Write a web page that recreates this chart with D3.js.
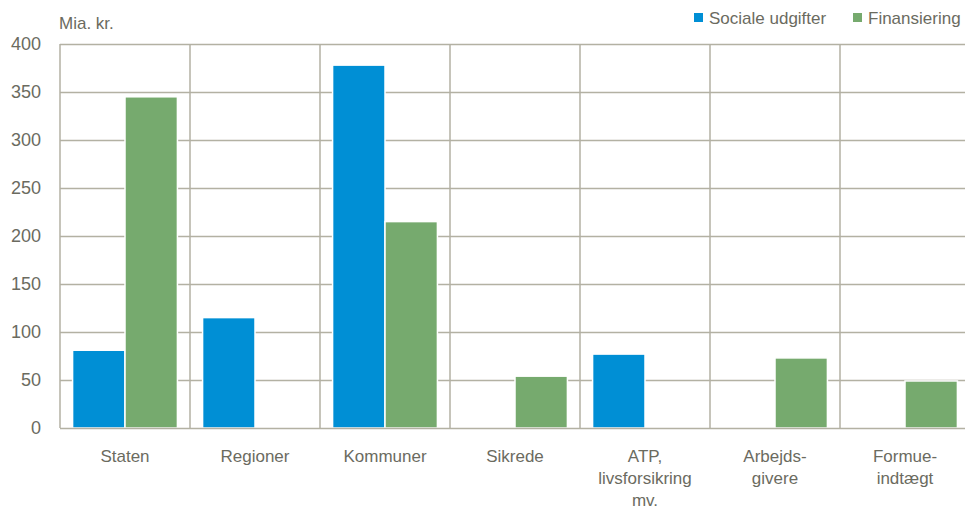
<!DOCTYPE html>
<html>
<head>
<meta charset="utf-8">
<script src="https://cdn.jsdelivr.net/npm/d3@7"></script>
<style>
  body { margin: 0; background: #fff; }
  svg { font-family: "Liberation Sans", Arial, sans-serif; }
</style>
</head>
<body>
<div id="wrapper"></div>
<script>
const categories = [
  ["Staten"],
  ["Regioner"],
  ["Kommuner"],
  ["Sikrede"],
  ["ATP,", "livsforsikring", "mv."],
  ["Arbejds-", "givere"],
  ["Formue-", "indtægt"],
];
const seriesNames = ["Sociale udgifter", "Finansiering"];
const socialeUdgifter = [81, 115, 378, 0, 77, 0, 0];
const finansiering = [345, 0, 215, 54, 0, 73, 49];
const yTicks = [0, 50, 100, 150, 200, 250, 300, 350, 400];
const colors = ["#008fd5", "#76aa6e"];

const drawChart = () => {
  const dimensions = {
    width: 965,
    height: 513,
    margins: { top: 44, right: -5, bottom: 85, left: 60 },
  };
  dimensions.boundedWidth =
    dimensions.width - dimensions.margins.left - dimensions.margins.right;
  dimensions.boundedHeight =
    dimensions.height - dimensions.margins.top - dimensions.margins.bottom;

  const textColor = "#6b6b5f";
  const gridColor = "#b3b1a3";

  const svg = d3.select("#wrapper").append("svg")
    .attr("width", dimensions.width)
    .attr("height", dimensions.height);

  const bounds = svg.append("g")
    .attr("transform", `translate(${dimensions.margins.left},${dimensions.margins.top})`);

  const keys = categories.map((c, i) => i);
  const xScale = d3.scaleBand()
    .domain(keys)
    .range([0, dimensions.boundedWidth]);
  // two bars per category, white gap on each side
  const inner = d3.scaleBand()
    .domain([0, 1])
    .range([0, xScale.bandwidth()])
    .paddingOuter(0.24)
    .paddingInner(0);
  const yScale = d3.scaleLinear()
    .domain([0, 400])
    .range([dimensions.boundedHeight, 0]);

  // horizontal grid
  bounds.append("g")
    .selectAll("line")
    .data(yTicks.filter(d => d > 0))
    .join("line")
      .attr("x1", 0)
      .attr("x2", dimensions.boundedWidth)
      .attr("y1", d => yScale(d) + 0.5)
      .attr("y2", d => yScale(d) + 0.5)
      .attr("stroke", gridColor)
      .attr("stroke-width", 1.5);

  // vertical separators
  bounds.append("g")
    .selectAll("line")
    .data(d3.range(categories.length + 1))
    .join("line")
      .attr("x1", d => d === categories.length ? dimensions.boundedWidth : xScale(d))
      .attr("x2", d => d === categories.length ? dimensions.boundedWidth : xScale(d))
      .attr("y1", 0)
      .attr("y2", dimensions.boundedHeight)
      .attr("stroke", gridColor)
      .attr("stroke-width", 1.5);

  // bars
  const seriesData = [socialeUdgifter, finansiering];
  seriesData.forEach((values, s) => {
    bounds.append("g")
      .selectAll("rect")
      .data(values.map((v, i) => ({ i, v })).filter(d => d.v > 0))
      .join("rect")
        .attr("x", d => xScale(d.i) + inner(s))
        .attr("y", d => yScale(d.v))
        .attr("width", inner.bandwidth())
        .attr("height", d => dimensions.boundedHeight - yScale(d.v))
        .attr("fill", colors[s])
        .attr("stroke", "#fff")
        .attr("stroke-width", 1.5);
  });

  // baseline
  bounds.append("line")
    .attr("x1", 0)
    .attr("x2", dimensions.boundedWidth)
    .attr("y1", dimensions.boundedHeight + 0.5)
    .attr("y2", dimensions.boundedHeight + 0.5)
    .attr("stroke", gridColor)
    .attr("stroke-width", 1.5);

  // y axis labels
  bounds.append("g")
    .selectAll("text")
    .data(yTicks)
    .join("text")
      .attr("x", -19)
      .attr("y", d => yScale(d))
      .attr("dy", "0.35em")
      .attr("text-anchor", "end")
      .attr("fill", textColor)
      .style("font-size", "18px")
      .text(d => d);

  // x axis labels
  const xLabels = bounds.append("g")
    .selectAll("text")
    .data(categories)
    .join("text")
      .attr("x", (d, i) => xScale(i) + xScale.bandwidth() / 2)
      .attr("y", dimensions.boundedHeight + 34)
      .attr("text-anchor", "middle")
      .attr("fill", textColor)
      .style("font-size", "17px");
  xLabels.selectAll("tspan")
    .data(d => d)
    .join("tspan")
      .attr("x", function () { return d3.select(this.parentNode).attr("x"); })
      .attr("dy", (d, i) => i === 0 ? 0 : 22)
      .text(d => d);

  // unit label
  svg.append("text")
    .attr("x", 59)
    .attr("y", 29)
    .attr("fill", textColor)
    .style("font-size", "17px")
    .text("Mia. kr.");

  // legend
  const legendX = [694, 853];
  const legend = svg.append("g")
    .selectAll("g")
    .data(seriesNames)
    .join("g")
      .attr("transform", (d, i) => `translate(${legendX[i]},0)`);
  legend.append("rect")
    .attr("x", 0)
    .attr("y", 13)
    .attr("width", 9)
    .attr("height", 9)
    .attr("fill", (d, i) => colors[i]);
  legend.append("text")
    .attr("x", 15)
    .attr("y", 24)
    .attr("fill", textColor)
    .style("font-size", "17px")
    .text(d => d);
};

drawChart();
</script>
</body>
</html>
